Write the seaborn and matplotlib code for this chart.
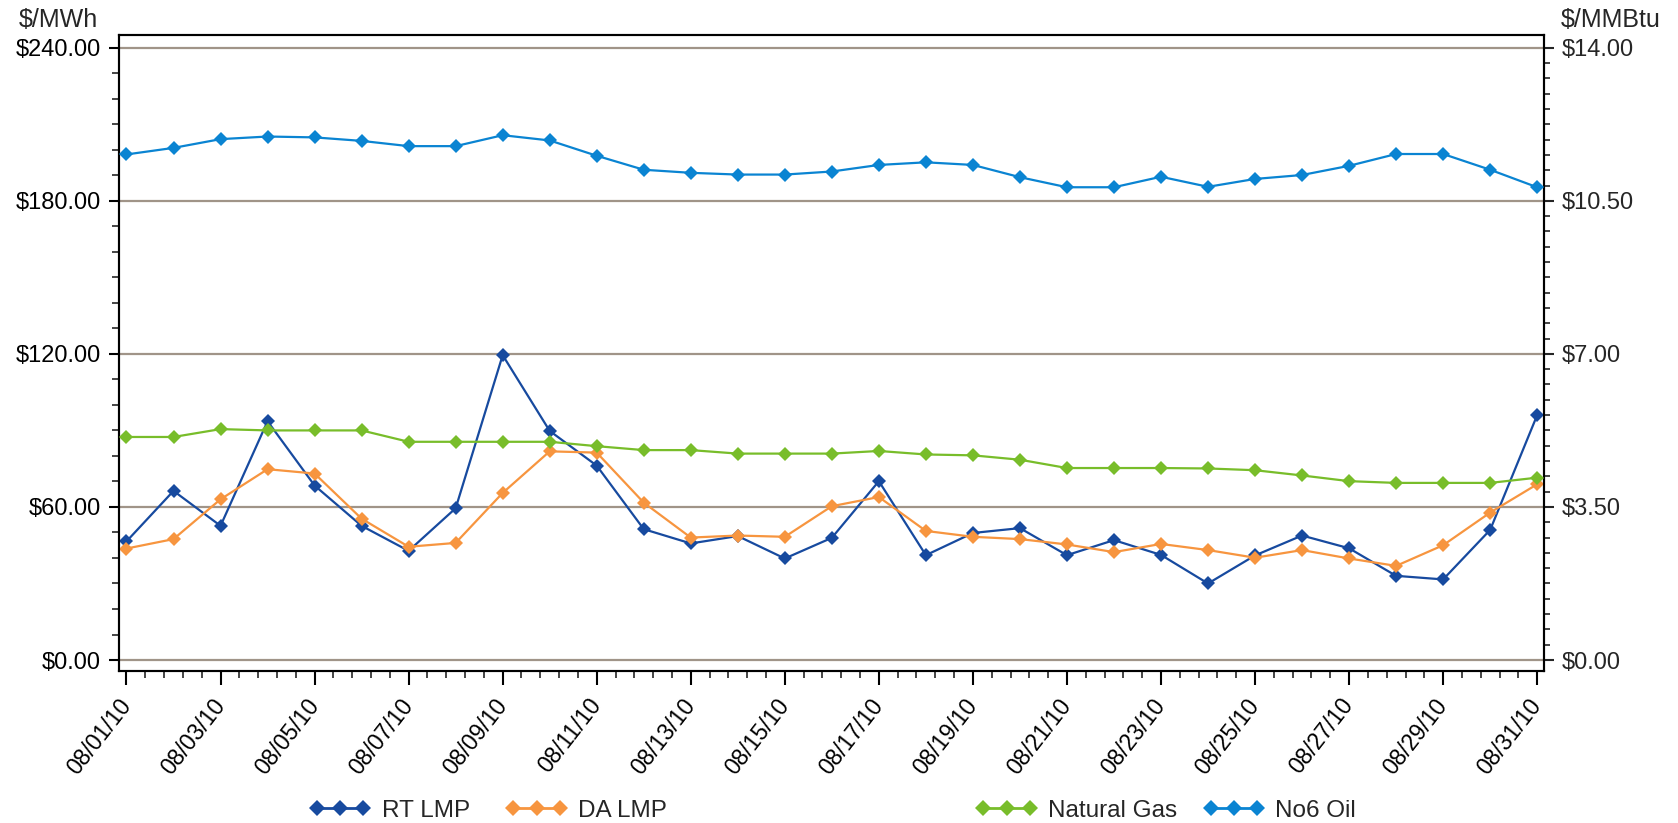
import numpy as np
import pandas as pd
import seaborn as sns
import matplotlib.pyplot as plt
from matplotlib.ticker import FixedLocator, MultipleLocator, FuncFormatter

# daily values, Aug 2010
dates = ['08/%02d/10' % d for d in range(1, 32)]
rt_lmp = [46.5, 66.3, 52.6, 93.6, 68.4, 52.6, 42.8, 59.5, 119.5, 89.8, 76.2,
          51.3, 45.7, 48.6, 39.8, 47.9, 70.1, 41.1, 49.8, 51.7, 41.1, 47.0,
          41.2, 30.0, 41.0, 48.8, 43.8, 33.0, 31.6, 51.0, 96.0]
da_lmp = [43.7, 47.4, 63.0, 74.8, 73.1, 55.4, 44.4, 45.9, 65.5, 81.8, 81.3,
          61.7, 48.0, 48.8, 48.3, 60.3, 63.9, 50.6, 48.3, 47.4, 45.3, 42.3,
          45.5, 43.1, 40.1, 43.1, 39.8, 36.9, 45.0, 57.8, 68.9]
nat_gas = [5.10, 5.10, 5.28, 5.25, 5.25, 5.25, 4.99, 4.99, 4.99, 4.99, 4.89,
           4.80, 4.80, 4.72, 4.72, 4.72, 4.78, 4.70, 4.68, 4.58, 4.39, 4.39,
           4.39, 4.38, 4.34, 4.22, 4.09, 4.05, 4.05, 4.05, 4.17]
no6_oil = [11.56, 11.71, 11.91, 11.97, 11.95, 11.87, 11.75, 11.75, 12.00, 11.88, 11.53,
           11.21, 11.14, 11.10, 11.10, 11.17, 11.32, 11.38, 11.32, 11.04, 10.81, 10.81,
           11.05, 10.82, 11.00, 11.09, 11.30, 11.57, 11.57, 11.21, 10.81]

day = np.arange(len(dates))
df_left = pd.DataFrame({'day': np.tile(day, 2),
                        'value': rt_lmp + da_lmp,
                        'series': ['RT LMP'] * 31 + ['DA LMP'] * 31})
df_right = pd.DataFrame({'day': np.tile(day, 2),
                         'value': nat_gas + no6_oil,
                         'series': ['Natural Gas'] * 31 + ['No6 Oil'] * 31})

sns.set_theme(style="white")
plt.rcParams['font.family'] = ['Liberation Sans', 'DejaVu Sans']

fig, ax = plt.subplots(figsize=(16.78, 8.23), dpi=100)
fig.subplots_adjust(left=0.0709, right=0.920, top=0.9575, bottom=0.185)
ax2 = ax.twinx()

pal_left = {'RT LMP': '#174a9f', 'DA LMP': '#f7953f'}
pal_right = {'Natural Gas': '#78bd2a', 'No6 Oil': '#0a84d2'}

sns.lineplot(data=df_left, x='day', y='value', hue='series', palette=pal_left,
             marker='D', markersize=7, markeredgewidth=0, linewidth=1.6, ax=ax, legend=False, zorder=3)
sns.lineplot(data=df_right, x='day', y='value', hue='series', palette=pal_right,
             marker='D', markersize=7, markeredgewidth=0, linewidth=1.6, ax=ax2, legend=False, zorder=3)

lo, hi = -4.2, 245.0
ax.set_ylim(lo, hi)
ax2.set_ylim(lo * 14 / 240, hi * 14 / 240)
ax.set_xlim(-0.16, 30.14)

ax.yaxis.set_major_locator(FixedLocator([0, 60, 120, 180, 240]))
ax.yaxis.set_minor_locator(MultipleLocator(10))
ax2.yaxis.set_major_locator(FixedLocator([0, 3.5, 7, 10.5, 14]))
ax2.yaxis.set_minor_locator(MultipleLocator(0.35))
fmt = FuncFormatter(lambda v, p: '$%.2f' % v)
ax.yaxis.set_major_formatter(fmt)
ax2.yaxis.set_major_formatter(fmt)

ax.xaxis.set_major_locator(FixedLocator(day[::2]))
ax.xaxis.set_minor_locator(FixedLocator(np.arange(0, 30.01, 0.4)))
ax.set_xticklabels(dates[::2], rotation=52, ha='right', va='center',
                   rotation_mode='anchor', fontsize=16.5)

for a in (ax, ax2):
    a.set_xlabel(None)
    a.set_ylabel(None)
    for s in a.spines.values():
        s.set_color('black')
        s.set_linewidth(1.5)
ax.tick_params(axis='y', which='major', direction='out', length=7, width=1.5,
               labelsize=17, colors='black', left=True, pad=6)
ax.tick_params(axis='x', which='major', direction='out', length=10, width=1.5,
               colors='black', bottom=True, pad=12)
ax.tick_params(axis='both', which='minor', direction='out', length=5, width=1.2,
               left=True, bottom=True)
ax2.tick_params(axis='y', which='major', direction='out', length=7, width=1.5,
                labelsize=17, right=True, pad=6)
ax2.tick_params(axis='y', which='minor', direction='out', length=4, width=1.2, right=True)

for v in [0, 60, 120, 180, 240]:
    ax.axhline(v, color='#a09488', linewidth=1.6, zorder=1)

fig.text(0.035, 0.967, '$/MWh', ha='center', va='baseline', fontsize=18)
fig.text(0.9597, 0.967, '$/MMBtu', ha='center', va='baseline', fontsize=18)

h_left = [plt.Line2D([], [], color=c, marker='D', markersize=8, markeredgewidth=0, linewidth=2)
          for c in pal_left.values()]
h_right = [plt.Line2D([], [], color=c, marker='D', markersize=8, markeredgewidth=0, linewidth=2)
           for c in pal_right.values()]
fig.legend(h_left, list(pal_left.keys()), loc='center', bbox_to_anchor=(0.291, 0.0146),
           ncol=2, frameon=False, fontsize=17.5, numpoints=3, handlelength=2.5,
           columnspacing=1.5, handletextpad=0.45, borderpad=0)
fig.legend(h_right, list(pal_right.keys()), loc='center', bbox_to_anchor=(0.695, 0.0146),
           ncol=2, frameon=False, fontsize=17.5, numpoints=3, handlelength=2.5,
           columnspacing=1.1, handletextpad=0.45, borderpad=0)

plt.savefig('out.png', dpi=100)
